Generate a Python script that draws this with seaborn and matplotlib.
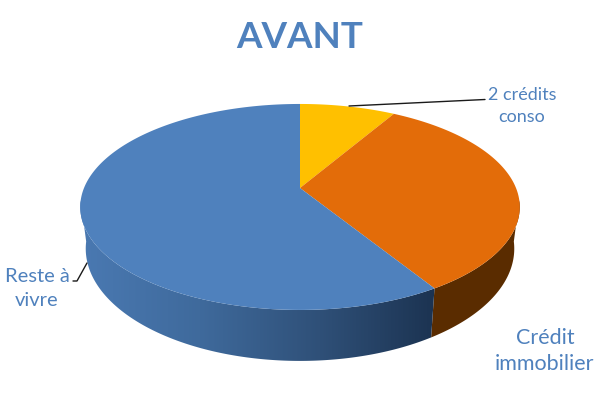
import numpy as np
import matplotlib
matplotlib.use("Agg")
import matplotlib.pyplot as plt
from matplotlib.colors import ListedColormap
from matplotlib.patches import Polygon
import seaborn as sns

title = "AVANT"
categories = ["Reste à\nvivre", "2 crédits\nconso", "Crédit\nimmobilier"]
# clockwise from 12 o'clock: yellow, orange, then blue
slice_names = ["2 crédits conso", "Crédit immobilier", "Reste à vivre"]
slice_values = [8.4, 32.8, 58.8]
top_colors = ["#ffc000", "#e36c09", "#4f81bd"]

sns.set_theme(style="white")
plt.rcParams["font.family"] = ["Lato", "DejaVu Sans"]
TEXT = "#4f81bd"

# perspective of the pie disc, in pixels
CX, CY, R, A, K = 300, 188, 216, 99.5, 0.184


def project(theta):
    u, v = np.sin(theta), np.cos(theta)
    f = 1 + K * v
    return CX + R * u / f, CY - A * v / f


def lower(x, y):
    # same point on the bottom rim of the disc
    return CX + (x - CX) * 0.975, y + 40 + 0.09 * (y - CY)


def wall(t0, t1):
    x, y = project(np.linspace(t0, t1, 300))
    x2, y2 = lower(x, y)
    return np.c_[np.r_[x, x2[::-1]], np.r_[y, y2[::-1]]]


fig = plt.figure(figsize=(6, 4), dpi=100)
ax = fig.add_axes([0, 0, 1, 1])

edges = np.radians(np.cumsum([0] + slice_values) * 3.6)

# side wall: flat brown under the orange slice, shaded blue under the blue one
ax.fill(*wall(np.radians(97), edges[2]).T, color="#5a2c00", lw=0, zorder=1)

blue_side = ListedColormap(sns.blend_palette(["#1b3250", "#2f5078", "#3f6a9c", "#4a79b2"], 256))
shade = ax.imshow(np.linspace(0, 1, 256)[None, :], cmap=blue_side, extent=(440, 80, 370, 200),
                  aspect="auto", zorder=1)
clip = Polygon(wall(edges[2], np.radians(263)), closed=True, transform=ax.transData, fc="none", ec="none")
ax.add_patch(clip)
shade.set_clip_path(clip)

ax.set_xlim(0, 600)
ax.set_ylim(400, 0)
ax.axis("off")

# top face
for i, col in enumerate(top_colors):
    t = np.linspace(edges[i], edges[i + 1], 200)
    x, y = project(t)
    ax.fill(np.r_[CX, x], np.r_[CY, y], color=col, lw=0, zorder=2)

# leader lines
ax.plot([349, 485], [106, 99.5], color="#1a1a1a", lw=1, zorder=3)
ax.plot([87, 77, 73], [263, 281, 281], color="#1a1a1a", lw=1, zorder=3)

ax.text(300, 38, title, color=TEXT, fontsize=26.5, fontweight="bold", ha="center", va="center")
ax.text(37, 288, categories[0], color=TEXT, fontsize=14.5, ha="center", va="center", linespacing=1.5)
ax.text(522, 106, categories[1], color=TEXT, fontsize=13, ha="center", va="center", linespacing=1.5)
ax.text(545, 351, categories[2], color=TEXT, fontsize=15.5, ha="center", va="center", linespacing=1.4)

fig.savefig("out.png", dpi=100)
